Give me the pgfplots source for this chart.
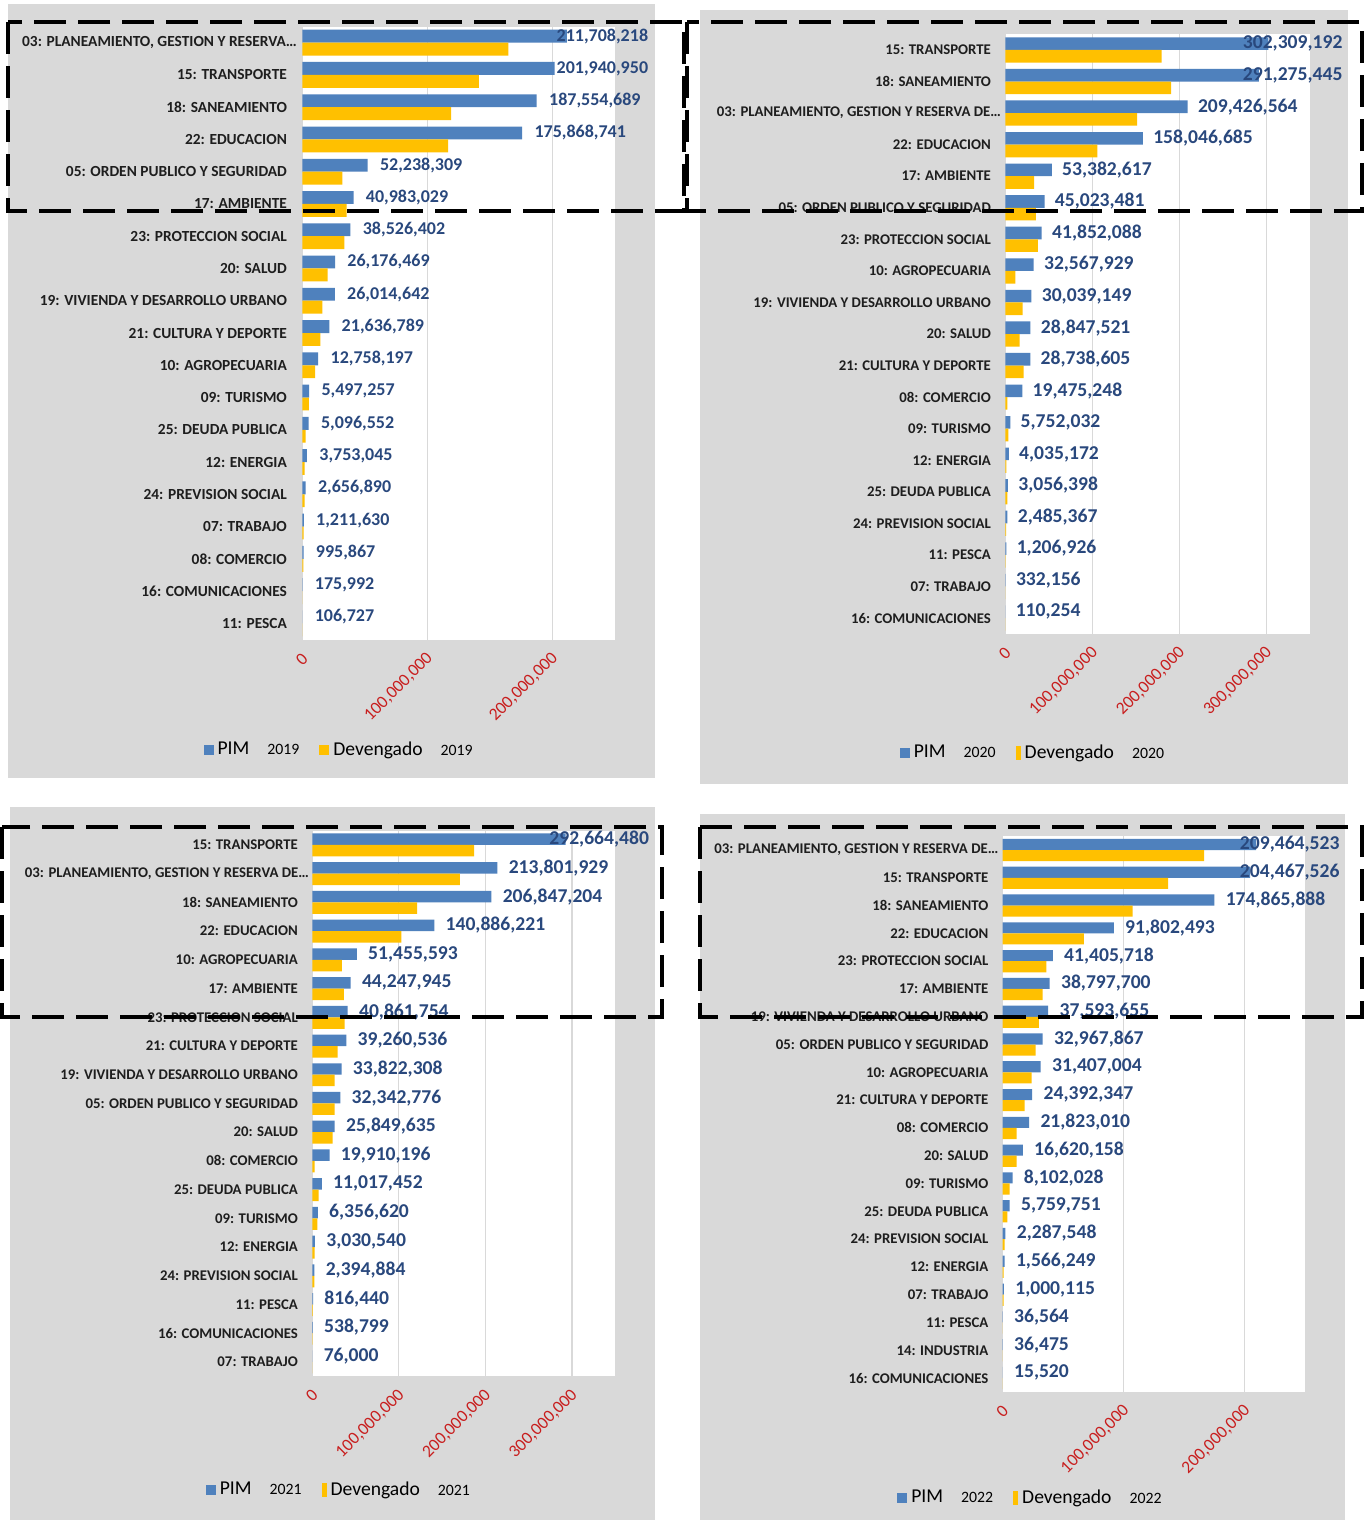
\documentclass[border=0pt]{standalone}
\usepackage{pgfplots}
\pgfplotsset{compat=1.18}
\usepackage{pgfplotstable}
\usepackage{fontspec}
\setmainfont{Carlito}
\definecolor{pimc}{RGB}{79,129,189}
\definecolor{devc}{RGB}{255,192,0}
\definecolor{bgc}{RGB}{217,217,217}
\definecolor{gridc}{RGB}{217,217,217}
\definecolor{lblc}{RGB}{41,72,125}
\definecolor{tickred}{RGB}{200,30,30}
\definecolor{catc}{RGB}{30,30,30}

\pgfplotstableread{
y pim dev lbl
0 211708218 164800000 211,708,218
1 201940950 141200000 201,940,950
2 187554689 119000000 187,554,689
3 175868741 116600000 175,868,741
4 52238309 32000000 52,238,309
5 40983029 35500000 40,983,029
6 38526402 33600000 38,526,402
7 26176469 20300000 26,176,469
8 26014642 16000000 26,014,642
9 21636789 14400000 21,636,789
10 12758197 10200000 12,758,197
11 5497257 5300000 5,497,257
12 5096552 2700000 5,096,552
13 3753045 1900000 3,753,045
14 2656890 1900000 2,656,890
15 1211630 1100000 1,211,630
16 995867 800000 995,867
17 175992 150000 175,992
18 106727 100000 106,727
}\tA

\pgfplotstableread{
y pim dev lbl
0 302309192 179500000 302,309,192
1 291275445 190600000 291,275,445
2 209426564 151500000 209,426,564
3 158046685 105800000 158,046,685
4 53382617 33100000 53,382,617
5 45023481 35000000 45,023,481
6 41852088 37500000 41,852,088
7 32567929 11500000 32,567,929
8 30039149 19900000 30,039,149
9 28847521 16500000 28,847,521
10 28738605 21000000 28,738,605
11 19475248 2300000 19,475,248
12 5752032 3400000 5,752,032
13 4035172 1100000 4,035,172
14 3056398 2300000 3,056,398
15 2485367 800000 2,485,367
16 1206926 300000 1,206,926
17 332156 200000 332,156
18 110254 50000 110,254
}\tB

\pgfplotstableread{
y pim dev lbl
0 292664480 186800000 292,664,480
1 213801929 170500000 213,801,929
2 206847204 121100000 206,847,204
3 140886221 102800000 140,886,221
4 51455593 34100000 51,455,593
5 44247945 36600000 44,247,945
6 40861754 37300000 40,861,754
7 39260536 29200000 39,260,536
8 33822308 25800000 33,822,308
9 32342776 25800000 32,342,776
10 25849635 23500000 25,849,635
11 19910196 2700000 19,910,196
12 11017452 7300000 11,017,452
13 6356620 5800000 6,356,620
14 3030540 2700000 3,030,540
15 2394884 2300000 2,394,884
16 816440 700000 816,440
17 538799 450000 538,799
18 76000 60000 76,000
}\tC

\pgfplotstableread{
y pim dev lbl
0 209464523 166400000 209,464,523
1 204467526 136700000 204,467,526
2 174865888 107400000 174,865,888
3 91802493 67100000 91,802,493
4 41405718 36000000 41,405,718
5 38797700 32900000 38,797,700
6 37593655 29900000 37,593,655
7 32967867 27200000 32,967,867
8 31407004 23900000 31,407,004
9 24392347 18100000 24,392,347
10 21823010 11500000 21,823,010
11 16620158 11500000 16,620,158
12 8102028 5800000 8,102,028
13 5759751 3800000 5,759,751
14 2287548 1600000 2,287,548
15 1566249 800000 1,566,249
16 1000115 800000 1,000,115
17 36564 30000 36,564
18 36475 30000 36,475
19 15520 10000 15,520
}\tD

\pgfplotsset{
  panel/.style={
    scale only axis, clip=false,
    axis background/.style={fill=white},
    y dir=reverse, ymin=-0.5, xmin=0,
    axis line style={draw=none},
    major tick style={draw=none},
    xmajorgrids, major grid style={draw=gridc, line width=0.6pt},
    scaled x ticks=false,
    xticklabel style={xshift=1.5pt, yshift=-8pt, rotate=45, anchor=east, inner sep=0pt,
      text=tickred, font=\fontsize{8.75}{10}\selectfont},
    yticklabel style={anchor=east, inner sep=0pt, text=catc},
    legend style={draw=none, fill=none, anchor=center, legend columns=-1,
      font=\fontsize{9.8}{11}\selectfont, text=black,
      /tikz/every even column/.append style={column sep=8pt}},
  },
  pimbar/.style={xbar, bar width=0.4, bar shift=-0.2, fill=pimc, draw=none,
    legend image code/.code={\fill[pimc] (0pt,-2.5pt) rectangle (5pt,2.5pt);}},
  devbar/.style={xbar, bar width=0.4, bar shift=0.2, fill=devc, draw=none,
    legend image code/.code={\fill[devc] (0pt,-2.5pt) rectangle (5pt,2.5pt);}},
  devbarthin/.style={xbar, bar width=0.4, bar shift=0.2, fill=devc, draw=none,
    legend image code/.code={\fill[devc] (1.5pt,-3.5pt) rectangle (4pt,3.5pt);}},
  lbls/.style={draw=none, mark=none, forget plot, point meta=explicit symbolic,
    nodes near coords, nodes near coords style={anchor=west, inner sep=0pt, text=lblc}},
}

\newcommand\yr[1]{\hspace{9pt}{\fontsize{7.9}{9}\selectfont #1}}

\begin{document}
\begin{tikzpicture}
\useasboundingbox (0pt,0pt) rectangle (682.5pt,-760pt);
\begin{scope}[x=0.5pt,y=-0.5pt]
\fill[bgc] (8,4) rectangle (655,778);
\fill[bgc] (700,10) rectangle (1348,784);
\fill[bgc] (10,807) rectangle (655,1520);
\fill[bgc] (700,814) rectangle (1345,1520);
\end{scope}

% ---------------- 2019
\begin{axis}[panel,
  at={(151.15pt,-13.25pt)}, anchor=north west,
  width=156.25pt, height=306.5pt,
  xmax=250000000, ymax=18.5,
  xtick={0,100000000,200000000},
  xticklabels={0,{100,000,000},{200,000,000}},
  ytick={0,...,18},
  yticklabels={{03: PLANEAMIENTO, GESTION Y RESERVA…\hspace*{-5pt}},{15: TRANSPORTE},{18: SANEAMIENTO},{22: EDUCACION},{05: ORDEN PUBLICO Y SEGURIDAD},{17: AMBIENTE},{23: PROTECCION SOCIAL},{20: SALUD},{19: VIVIENDA Y DESARROLLO URBANO},{21: CULTURA Y DEPORTE},{10: AGROPECUARIA},{09: TURISMO},{25: DEUDA PUBLICA},{12: ENERGIA},{24: PREVISION SOCIAL},{07: TRABAJO},{08: COMERCIO},{16: COMUNICACIONES},{11: PESCA}},
  yticklabel style={font=\bfseries\fontsize{7.7}{9}\selectfont, xshift=-7.5pt},
  legend style={at={(0.121,-0.180)}},
]
\addplot[pimbar] table[x=pim,y=y]{\tA};
\addplot[devbar] table[x=dev,y=y]{\tA};
\addplot[lbls, nodes near coords style={font=\bfseries\fontsize{9}{10}\selectfont, xshift=6pt}]
  table[x expr={min(\thisrow{pim},193600000)}, y expr={\thisrow{y}-0.2}, meta=lbl]{\tA};
\legend{PIM\yr{2019}, Devengado\yr{2019}}
\end{axis}

% ---------------- 2020
\begin{axis}[panel,
  at={(502.65pt,-17.1pt)}, anchor=north west,
  width=152.35pt, height=299.8pt,
  xmax=350000000, ymax=18.5,
  xtick={0,100000000,200000000,300000000},
  xticklabels={0,{100,000,000},{200,000,000},{300,000,000}},
  ytick={0,...,18},
  yticklabels={{15: TRANSPORTE},{18: SANEAMIENTO},{03: PLANEAMIENTO, GESTION Y RESERVA DE…\hspace*{-5pt}},{22: EDUCACION},{17: AMBIENTE},{05: ORDEN PUBLICO Y SEGURIDAD},{23: PROTECCION SOCIAL},{10: AGROPECUARIA},{19: VIVIENDA Y DESARROLLO URBANO},{20: SALUD},{21: CULTURA Y DEPORTE},{08: COMERCIO},{09: TURISMO},{12: ENERGIA},{25: DEUDA PUBLICA},{24: PREVISION SOCIAL},{11: PESCA},{07: TRABAJO},{16: COMUNICACIONES}},
  yticklabel style={font=\bfseries\fontsize{7.4}{9}\selectfont, xshift=-7pt},
  legend style={at={(0.094,-0.199)}},
]
\addplot[pimbar] table[x=pim,y=y]{\tB};
\addplot[devbarthin] table[x=dev,y=y]{\tB};
\addplot[lbls, nodes near coords style={font=\bfseries\fontsize{9.8}{11}\selectfont, xshift=5pt}]
  table[x expr={min(\thisrow{pim},261000000)}, y expr={\thisrow{y}-0.2}, meta=lbl]{\tB};
\legend{PIM\yr{2020}, Devengado\yr{2020}}
\end{axis}

% ---------------- 2021
\begin{axis}[panel,
  at={(156.15pt,-415.3pt)}, anchor=north west,
  width=151.5pt, height=272.85pt,
  xmax=350000000, ymax=18.5,
  xtick={0,100000000,200000000,300000000},
  xticklabels={0,{100,000,000},{200,000,000},{300,000,000}},
  ytick={0,...,18},
  yticklabels={{15: TRANSPORTE},{03: PLANEAMIENTO, GESTION Y RESERVA DE…\hspace*{-5.5pt}},{18: SANEAMIENTO},{22: EDUCACION},{10: AGROPECUARIA},{17: AMBIENTE},{23: PROTECCION SOCIAL},{21: CULTURA Y DEPORTE},{19: VIVIENDA Y DESARROLLO URBANO},{05: ORDEN PUBLICO Y SEGURIDAD},{20: SALUD},{08: COMERCIO},{25: DEUDA PUBLICA},{09: TURISMO},{12: ENERGIA},{24: PREVISION SOCIAL},{11: PESCA},{16: COMUNICACIONES},{07: TRABAJO}},
  yticklabel style={font=\bfseries\fontsize{7.4}{9}\selectfont, xshift=-7pt},
  legend style={at={(0.091,-0.208)}},
]
\addplot[pimbar] table[x=pim,y=y]{\tC};
\addplot[devbarthin] table[x=dev,y=y]{\tC};
\addplot[lbls, nodes near coords style={font=\bfseries\fontsize{9.8}{11}\selectfont, xshift=5.5pt}]
  table[x expr={min(\thisrow{pim},260700000)}, y expr={\thisrow{y}-0.2}, meta=lbl]{\tC};
\legend{PIM\yr{2021}, Devengado\yr{2021}}
\end{axis}

% ---------------- 2022
\begin{axis}[panel,
  at={(501.35pt,-418.05pt)}, anchor=north west,
  width=151.3pt, height=277.9pt,
  xmax=250000000, ymax=19.5,
  xtick={0,100000000,200000000},
  xticklabels={0,{100,000,000},{200,000,000}},
  ytick={0,...,19},
  yticklabels={{03: PLANEAMIENTO, GESTION Y RESERVA DE…\hspace*{-5pt}},{15: TRANSPORTE},{18: SANEAMIENTO},{22: EDUCACION},{23: PROTECCION SOCIAL},{17: AMBIENTE},{19: VIVIENDA Y DESARROLLO URBANO},{05: ORDEN PUBLICO Y SEGURIDAD},{10: AGROPECUARIA},{21: CULTURA Y DEPORTE},{08: COMERCIO},{20: SALUD},{09: TURISMO},{25: DEUDA PUBLICA},{24: PREVISION SOCIAL},{12: ENERGIA},{07: TRABAJO},{11: PESCA},{14: INDUSTRIA},{16: COMUNICACIONES}},
  yticklabel style={font=\bfseries\fontsize{7.4}{9}\selectfont, xshift=-7pt},
  legend style={at={(0.095,-0.191)}},
]
\addplot[pimbar] table[x=pim,y=y]{\tD};
\addplot[devbarthin] table[x=dev,y=y]{\tD};
\addplot[lbls, nodes near coords style={font=\bfseries\fontsize{9.8}{11}\selectfont, xshift=5.5pt}]
  table[x expr={min(\thisrow{pim},186600000)}, y expr={\thisrow{y}-0.2}, meta=lbl]{\tD};
\legend{PIM\yr{2022}, Devengado\yr{2022}}
\end{axis}

% dashed highlight frames
\begin{scope}[x=0.5pt,y=-0.5pt, black, line width=2pt, dash pattern=on 16pt off 6pt]
\draw (8,22) rectangle (684,211);
\draw (687,22) rectangle (1362,211);
\draw (2,827) rectangle (662,1017);
\draw (700,827) rectangle (1362,1017);
\end{scope}
\end{tikzpicture}
\end{document}
